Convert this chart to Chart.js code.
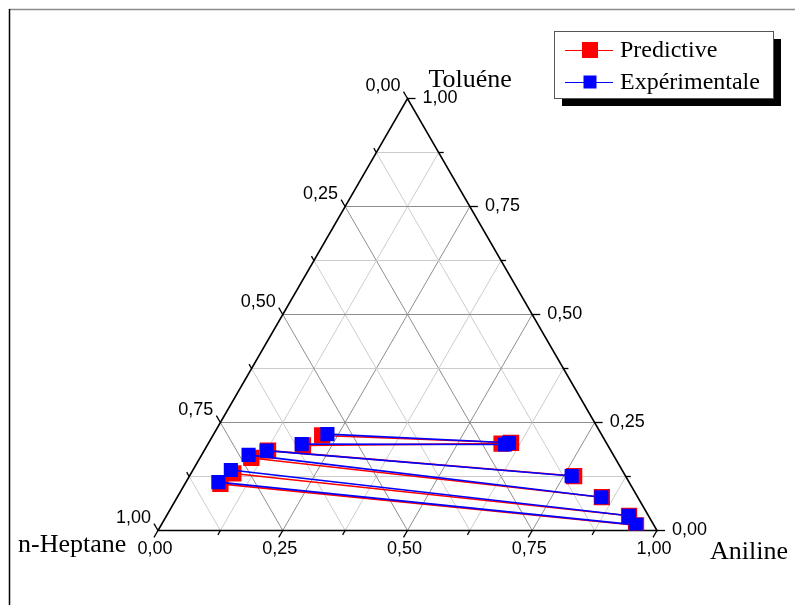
<!DOCTYPE html>
<html>
<head>
<meta charset="utf-8">
<title>Diagramme ternaire n-Heptane / Toluène / Aniline</title>
<script src="https://cdn.jsdelivr.net/npm/chart.js@4.4.1/dist/chart.umd.min.js"></script>
<style>
    html, body { margin: 0; padding: 0; background: #fff; }
    #wrap { width: 795px; height: 605px; position: relative; }
</style>
</head>
<body>
<div id="wrap"><canvas id="ternaryChart" width="795" height="605"></canvas></div>
<script>
// =====================================================
// Conodales n-Heptane / Toluène / Aniline (fractions massiques)
// raffinat = phase riche en n-heptane, extrait = phase riche en aniline
// =====================================================

// Expérimentale
const expRafToluene = [0.112, 0.140, 0.175, 0.185, 0.200, 0.223];
const expRafAniline = [0.065, 0.076, 0.094, 0.125, 0.188, 0.228];
const expExtToluene = [0.013, 0.034, 0.077, 0.126, 0.199, 0.203];
const expExtAniline = [0.951, 0.927, 0.850, 0.766, 0.596, 0.602];

// Predictive
const predRafToluene = [0.108, 0.132, 0.168, 0.185, 0.197, 0.220];
const predRafAniline = [0.071, 0.085, 0.103, 0.128, 0.192, 0.219];
const predExtToluene = [0.012, 0.034, 0.077, 0.126, 0.201, 0.203];
const predExtAniline = [0.952, 0.927, 0.851, 0.771, 0.588, 0.606];

const axisTicks = [0, 0.25, 0.5, 0.75, 1];
const minorStep = 0.125;
const seriesLabels = ['Predictive', 'Expérimentale'];

const SQRT3_2 = Math.sqrt(3) / 2;

// (toluène, aniline) -> coordonnées cartésiennes du triangle
function project(toluene, aniline) {
    return { x: aniline + toluene / 2, y: toluene * SQRT3_2 };
}

function buildTieLines(rafT, rafA, extT, extA) {
    const pts = [];
    for (let i = 0; i < rafT.length; i++) {
        pts.push(project(rafT[i], rafA[i]));
        pts.push(project(extT[i], extA[i]));
        pts.push({ x: NaN, y: NaN }); // coupure entre deux conodales
    }
    return pts;
}

function fmt(v) {
    return v.toFixed(2).replace('.', ',');
}

const ternaryPlugin = {
    id: 'ternary',
    beforeDatasetsDraw(chart) {
        const ctx = chart.ctx;
        const sx = chart.scales.x, sy = chart.scales.y;
        const P = (t, a) => {
            const p = project(t, a);
            return [sx.getPixelForValue(p.x), sy.getPixelForValue(p.y)];
        };
        const seg = (p, q) => {
            ctx.beginPath();
            ctx.moveTo(p[0], p[1]);
            ctx.lineTo(q[0], q[1]);
            ctx.stroke();
        };
        ctx.save();

        // grille
        ctx.lineWidth = 1;
        for (let k = 1; k < 8; k++) {
            const v = k * minorStep;
            ctx.strokeStyle = (k % 2 === 0) ? '#8e8e8e' : '#cccccc';
            seg(P(v, 0), P(v, 1 - v));       // toluène constant
            seg(P(0, v), P(1 - v, v));       // aniline constant
            seg(P(0, 1 - v), P(1 - v, 0));   // n-heptane constant
        }

        // triangle : H = n-heptane, A = aniline, T = toluène
        const H = P(0, 0), A = P(0, 1), T = P(1, 0);
        ctx.strokeStyle = '#000';
        ctx.lineWidth = 1.6;
        ctx.beginPath();
        ctx.moveTo(H[0], H[1]);
        ctx.lineTo(A[0], A[1]);
        ctx.lineTo(T[0], T[1]);
        ctx.closePath();
        ctx.stroke();

        // graduations
        ctx.lineWidth = 1.3;
        ctx.fillStyle = '#000';
        ctx.font = '18px "Liberation Sans", Arial, sans-serif';
        for (let k = 0; k <= 8; k++) {
            const v = k * minorStep;
            const major = axisTicks.some(t => Math.abs(t - v) < 1e-9);
            const len = major ? 8 : 5;

            // axe du bas : aniline
            let p = P(0, v);
            seg(p, [p[0] - 0.5 * len, p[1] + SQRT3_2 * len]);
            if (major) {
                ctx.textAlign = 'center';
                ctx.textBaseline = 'middle';
                ctx.fillText(fmt(v), p[0] - 3, p[1] + 19);
            }

            // axe de droite : toluène
            p = P(v, 1 - v);
            seg(p, [p[0] + len, p[1]]);
            if (major) {
                ctx.textAlign = 'left';
                ctx.textBaseline = 'middle';
                ctx.fillText(fmt(v), p[0] + 15, p[1]);
            }

            // axe de gauche : n-heptane
            p = P(1 - v, 0);
            seg(p, [p[0] - 0.5 * len, p[1] - SQRT3_2 * len]);
            if (major) {
                ctx.textAlign = 'right';
                ctx.textBaseline = 'middle';
                ctx.fillText(fmt(v), p[0] - 7, p[1] - 12);
            }
        }

        // titres des sommets
        ctx.font = '26px "Liberation Serif", "Times New Roman", serif';
        ctx.textBaseline = 'alphabetic';
        ctx.textAlign = 'left';
        ctx.fillText('Toluéne', T[0] + 21, T[1] - 12);
        ctx.fillText('n-Heptane', 18, 552);
        ctx.fillText('Aniline', 710, 559);
        ctx.restore();
    },
    afterDraw(chart) {
        const ctx = chart.ctx;
        ctx.save();
        // cadre
        ctx.lineWidth = 1.5;
        ctx.strokeStyle = '#8a8a8a';
        ctx.beginPath();
        ctx.moveTo(9, 9.5);
        ctx.lineTo(795, 9.5);
        ctx.stroke();
        ctx.strokeStyle = '#000';
        ctx.beginPath();
        ctx.moveTo(9.5, 9);
        ctx.lineTo(9.5, 605);
        ctx.stroke();

        // légende
        const bx = 554, by = 31, bw = 219, bh = 67;
        ctx.fillStyle = '#000';
        ctx.fillRect(bx + 8, by + 8, bw, bh);
        ctx.fillStyle = '#fff';
        ctx.fillRect(bx, by, bw, bh);
        ctx.strokeStyle = '#555';
        ctx.lineWidth = 1;
        ctx.strokeRect(bx + 0.5, by + 0.5, bw, bh);

        const entries = [
            { label: seriesLabels[0], color: '#ff0000', size: 16, y: 50 },
            { label: seriesLabels[1], color: '#0000ff', size: 13, y: 82 }
        ];
        ctx.font = '24px "Liberation Serif", "Times New Roman", serif';
        ctx.textAlign = 'left';
        ctx.textBaseline = 'alphabetic';
        entries.forEach(e => {
            ctx.strokeStyle = e.color;
            ctx.lineWidth = 1.2;
            ctx.beginPath();
            ctx.moveTo(565, e.y + 0.5);
            ctx.lineTo(613, e.y + 0.5);
            ctx.stroke();
            ctx.fillStyle = e.color;
            ctx.fillRect(590 - e.size / 2, e.y - e.size / 2, e.size, e.size);
            ctx.fillStyle = '#000';
            ctx.fillText(e.label, 620, e.y + 7);
        });
        ctx.restore();
    }
};

new Chart(document.getElementById('ternaryChart'), {
    type: 'scatter',
    data: {
        datasets: [{
            label: seriesLabels[1],
            data: buildTieLines(expRafToluene, expRafAniline, expExtToluene, expExtAniline),
            showLine: true,
            spanGaps: false,
            borderColor: '#0000ff',
            borderWidth: 1.6,
            pointStyle: 'rect',
            pointRadius: 10,
            pointBackgroundColor: '#0000ff',
            pointBorderColor: '#0000ff',
            pointBorderWidth: 0,
            order: 1
        }, {
            label: seriesLabels[0],
            data: buildTieLines(predRafToluene, predRafAniline, predExtToluene, predExtAniline),
            showLine: true,
            spanGaps: false,
            borderColor: '#ff0000',
            borderWidth: 1.6,
            pointStyle: 'rect',
            pointRadius: 11.5,
            pointBackgroundColor: '#ff0000',
            pointBorderColor: '#ff2020',
            pointBorderWidth: 0,
            order: 2
        }]
    },
    options: {
        responsive: false,
        animation: false,
        layout: {
            padding: { left: 158, right: 138, top: 98.5, bottom: 74.5 }
        },
        scales: {
            x: { type: 'linear', min: 0, max: 1, display: false },
            y: { type: 'linear', min: 0, max: SQRT3_2, display: false }
        },
        plugins: {
            legend: { display: false },
            tooltip: { enabled: false }
        }
    },
    plugins: [ternaryPlugin]
});
</script>
</body>
</html>
